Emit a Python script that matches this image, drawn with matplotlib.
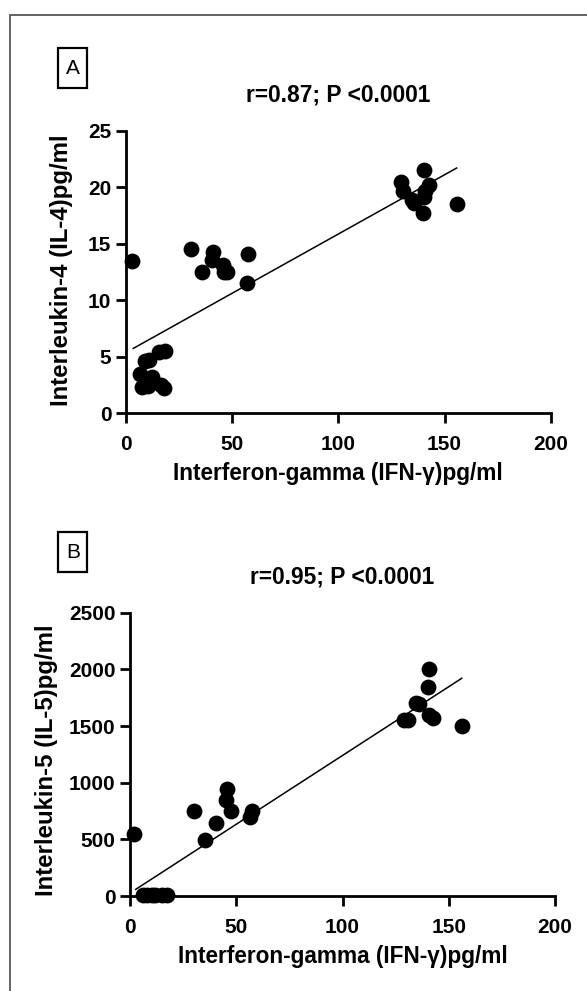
import matplotlib
matplotlib.use("Agg")
import matplotlib.pyplot as plt
import numpy as np
from matplotlib.patches import Rectangle

# ── data ────────────────────────────────────────────────────────────────────
ifn_a = [2.7, 6.6, 8.9, 11.0, 7.4, 10.5, 12.1, 15.7, 18.4, 16.5, 17.9,
         30.5, 35.6, 40.8, 40.5, 45.5, 46.2, 47.7, 56.8, 57.5,
         129.4, 130.3, 134.5, 135.6, 140.3, 140.8, 140.3, 140.0, 142.9, 155.7]
il4 = [13.5, 3.5, 4.6, 4.7, 2.3, 2.45, 3.2, 5.4, 5.5, 2.5, 2.2,
       14.5, 12.5, 14.3, 13.6, 13.1, 12.5, 12.5, 11.5, 14.1,
       20.5, 19.7, 18.9, 18.6, 21.5, 19.7, 19.1, 17.7, 20.2, 18.5]

ifn_b = [2.0, 6.3, 7.8, 10.2, 11.8, 14.9, 17.3,
         30.3, 35.3, 40.3, 45.5, 45.2, 47.5, 56.5, 57.3,
         129.1, 131.0, 134.6, 136.2, 140.7, 140.2, 140.5, 142.7, 156.1]
il5 = [544, 10, 10, 5, 12, 12, 8,
       750, 494, 647, 944, 844, 750, 694, 753,
       1553, 1553, 1700, 1694, 2000, 1844, 1597, 1574, 1497]

# regression lines (slope, intercept) as drawn in the figure
fit_a = (0.1048, 5.38)
fit_b = (12.14, 26.0)

titles = ["r=0.87; P <0.0001", "r=0.95; P <0.0001"]
ylabels = ["Interleukin-4 (IL-4)pg/ml", "Interleukin-5 (IL-5)pg/ml"]
xlabel = "Interferon-gamma (IFN-\u03b3)pg/ml"
panel_tags = ["A", "B"]
xticks = [0, 50, 100, 150, 200]
yticks_a = [0, 5, 10, 15, 20, 25]
yticks_b = [0, 500, 1000, 1500, 2000, 2500]

plt.rcParams["font.family"] = ["Liberation Sans", "DejaVu Sans"]

W, H = 587, 991
fig = plt.figure(figsize=(W / 100, H / 100), dpi=100)


def px_axes(x0, x1, y_top, y_bot):
    return fig.add_axes([x0 / W, 1 - y_bot / H, (x1 - x0) / W, (y_bot - y_top) / H])


ax_a = px_axes(126, 550.7, 130.7, 413.3)
ax_b = px_axes(130, 555, 612.7, 896)

panels = [
    (ax_a, ifn_a, il4, fit_a, yticks_a, (-0.125, 0.505)),
    (ax_b, ifn_b, il5, fit_b, yticks_b, (-0.169, 0.48)),
]

for i, (ax, x, y, fit, yt, ylab_pos) in enumerate(panels):
    ax.scatter(x, y, s=130, color="black", zorder=3, clip_on=False, linewidths=0)
    xs = np.array([min(x) + 0.7, max(x)])
    ax.plot(xs, fit[0] * xs + fit[1], color="black", lw=1.1, zorder=2)

    ax.set_xlim(0, 200)
    ax.set_ylim(yt[0], yt[-1])
    ax.set_xticks(xticks)
    ax.set_yticks(yt)
    for s in ["top", "right"]:
        ax.spines[s].set_visible(False)
    for s in ["left", "bottom"]:
        ax.spines[s].set_linewidth(2)
    ax.tick_params(width=2, length=7.5, labelsize=15)
    ax.tick_params(axis="x", pad=8)
    ax.tick_params(axis="y", pad=3)
    for lab in ax.get_xticklabels() + ax.get_yticklabels():
        lab.set_fontweight("bold")

    ax.set_title(titles[i], fontsize=16.4, fontweight="bold", pad=21)
    ax.set_xlabel(xlabel, fontsize=16.3, fontweight="bold", labelpad=6)
    ax.set_ylabel(ylabels[i], fontsize=17.3, fontweight="bold")
    ax.yaxis.set_label_coords(*ylab_pos)

# panel tags in boxes
for tag, y_top in zip(panel_tags, [48.3, 531.7]):
    fig.patches.append(Rectangle((58.3 / W, 1 - (y_top + 40) / H), 29 / W, 40 / H,
                                 transform=fig.transFigure, fill=False,
                                 ec="black", lw=1.6))
    fig.text(72.8 / W, 1 - (y_top + 20.5) / H, tag, fontsize=15,
             ha="center", va="center")

# outer frame (top and left edges visible)
fig.patches.append(Rectangle((10 / W, -0.05), 1.1, 1 - 15 / H + 0.05,
                             transform=fig.transFigure, fill=False,
                             ec="#555555", lw=1.3))

fig.savefig("out.png", dpi=100)
